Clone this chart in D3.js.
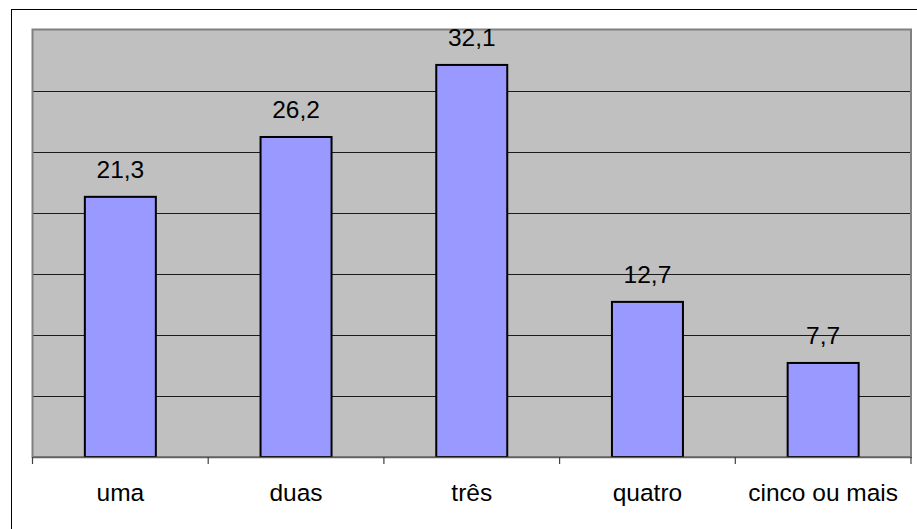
<!DOCTYPE html>
<html>
<head>
<meta charset="utf-8">
<script src="https://cdn.jsdelivr.net/npm/d3@7/dist/d3.min.js"></script>
<style>
  html, body { margin: 0; padding: 0; background: #ffffff; }
  svg { display: block; }
  text { font-family: "Liberation Sans", Arial, Helvetica, sans-serif; }
</style>
</head>
<body>
<svg id="chart" width="917" height="529"></svg>
<script>
const categories = ["uma", "duas", "três", "quatro", "cinco ou mais"];
const values = [21.3, 26.2, 32.1, 12.7, 7.7];
const valueLabels = ["21,3", "26,2", "32,1", "12,7", "7,7"];
const yTicks = [0, 5, 10, 15, 20, 25, 30, 35];

const svg = d3.select("#chart");
const W = 917, H = 529;
const plot = { left: 32.5, right: 911, top: 29.5, bottom: 457 };

// outer frame (only left/top visible)
svg.append("rect")
  .attr("x", 11.5).attr("y", 9.5)
  .attr("width", W + 10).attr("height", H + 10)
  .attr("fill", "#ffffff").attr("stroke", "#000000").attr("stroke-width", 1);

const x = d3.scaleBand().domain(categories).range([plot.left, plot.right]).paddingInner(0).paddingOuter(0);
const y = d3.scaleLinear().domain([0, 35]).range([plot.bottom, plot.top]);

// plot background
svg.append("rect")
  .attr("x", plot.left).attr("y", plot.top)
  .attr("width", plot.right - plot.left).attr("height", plot.bottom - plot.top)
  .attr("fill", "#c0c0c0");

// gridlines
svg.append("g").selectAll("line")
  .data(yTicks.filter(d => d > 0 && d < 35))
  .join("line")
  .attr("x1", plot.left).attr("x2", plot.right)
  .attr("y1", d => Math.round(y(d)) + 0.5).attr("y2", d => Math.round(y(d)) + 0.5)
  .attr("stroke", "#1a1a1a").attr("stroke-width", 1.2);

// plot border (gray)
svg.append("rect")
  .attr("x", plot.left).attr("y", plot.top)
  .attr("width", plot.right - plot.left).attr("height", plot.bottom - plot.top)
  .attr("fill", "none").attr("stroke", "#808080").attr("stroke-width", 2);

// bars
const barW = 71;
svg.append("g").selectAll("rect")
  .data(values)
  .join("rect")
  .attr("x", (d, i) => x(categories[i]) + x.bandwidth() / 2 - barW / 2)
  .attr("y", d => y(d))
  .attr("width", barW)
  .attr("height", d => y(0) - y(d))
  .attr("fill", "#9999ff")
  .attr("stroke", "#000000")
  .attr("stroke-width", 2);

// x axis
const xAxis = d3.axisBottom(x).tickSize(0).tickFormat("");
const gx = svg.append("g").attr("transform", `translate(0,${plot.bottom})`).call(xAxis);
gx.select(".domain").attr("stroke", "#606060").attr("stroke-width", 1.5);
// tick marks at category boundaries
const boundaries = categories.map(c => x(c)).concat([plot.right]);
svg.append("g").selectAll("line")
  .data(boundaries)
  .join("line")
  .attr("x1", d => d).attr("x2", d => d)
  .attr("y1", plot.bottom).attr("y2", plot.bottom + 7)
  .attr("stroke", "#404040").attr("stroke-width", 1.2);

// category labels
svg.append("g").selectAll("text")
  .data(categories)
  .join("text")
  .attr("x", d => x(d) + x.bandwidth() / 2)
  .attr("y", 501)
  .attr("text-anchor", "middle")
  .attr("font-size", 24.5)
  .attr("fill", "#000000")
  .text(d => d);

// value labels
svg.append("g").selectAll("text")
  .data(values)
  .join("text")
  .attr("x", (d, i) => x(categories[i]) + x.bandwidth() / 2)
  .attr("y", d => y(d) - 18.5)
  .attr("text-anchor", "middle")
  .attr("font-size", 24.5)
  .attr("fill", "#000000")
  .text((d, i) => valueLabels[i]);
</script>
</body>
</html>
